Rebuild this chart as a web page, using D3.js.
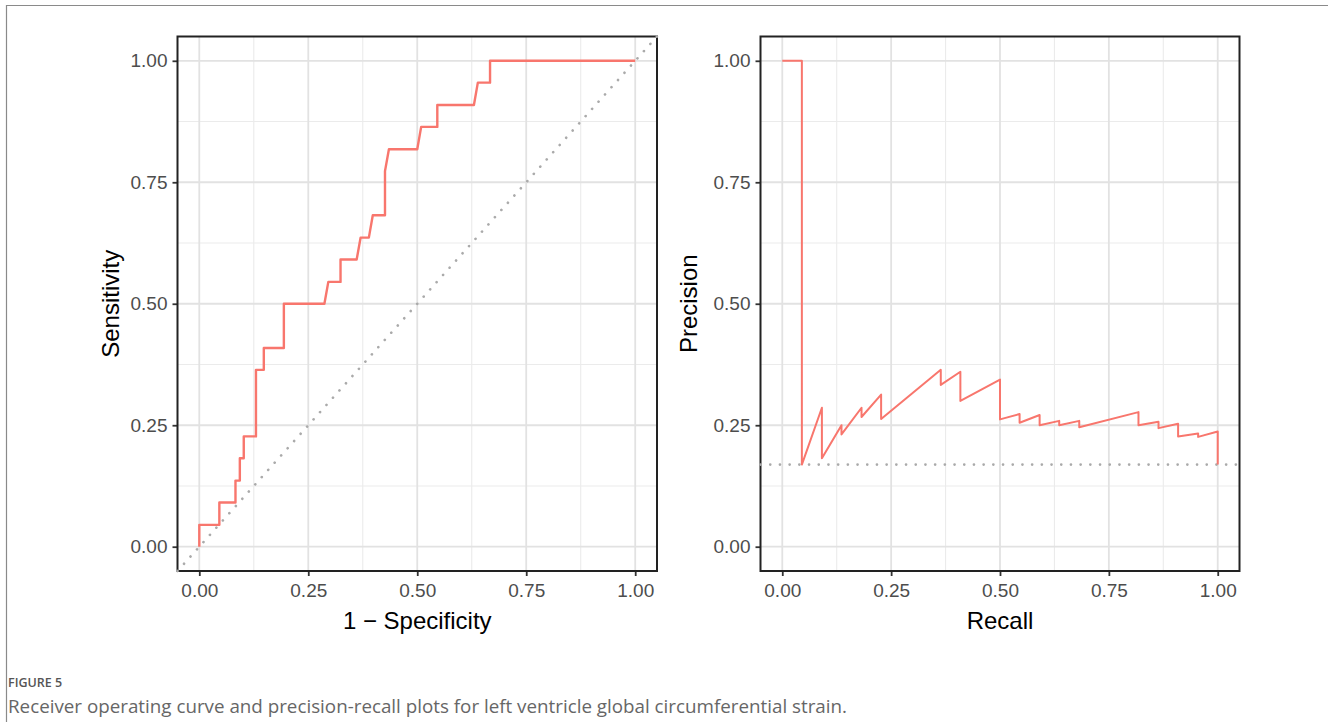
<!DOCTYPE html>
<html>
<head>
<meta charset="utf-8">
<script src="https://cdn.jsdelivr.net/npm/d3@7"></script>
<style>
  body { margin: 0; background: #fff; }
  svg { display: block; }
</style>
</head>
<body>
<div id="chart"></div>
<script>
// ROC curve (1 - specificity, sensitivity)
var rocFpr = [0, 0, 0.046, 0.046, 0.083, 0.083, 0.093, 0.093, 0.102, 0.102, 0.130, 0.130,
  0.148, 0.148, 0.194, 0.194, 0.287, 0.296, 0.324, 0.324, 0.361, 0.370, 0.389, 0.398,
  0.426, 0.426, 0.435, 0.500, 0.509, 0.546, 0.546, 0.630, 0.639, 0.667, 0.667, 1.0];
var rocTpr = [0, 0.045, 0.045, 0.091, 0.091, 0.136, 0.136, 0.182, 0.182, 0.227, 0.227, 0.364,
  0.364, 0.409, 0.409, 0.500, 0.500, 0.545, 0.545, 0.591, 0.591, 0.636, 0.636, 0.682,
  0.682, 0.773, 0.818, 0.818, 0.864, 0.864, 0.909, 0.909, 0.955, 0.955, 1.0, 1.0];

// precision-recall curve
var prRecall = [0, 0.045, 0.045, 0.091, 0.091, 0.136, 0.136, 0.182, 0.182, 0.227, 0.227,
  0.364, 0.364, 0.409, 0.409, 0.500, 0.500, 0.545, 0.545, 0.591, 0.591, 0.636, 0.636,
  0.682, 0.682, 0.818, 0.818, 0.864, 0.864, 0.909, 0.909, 0.955, 0.955, 1.0, 1.0];
var prPrecision = [1.0, 1.0, 0.169, 0.286, 0.182, 0.250, 0.231, 0.286, 0.267, 0.313, 0.263,
  0.364, 0.333, 0.360, 0.300, 0.344, 0.262, 0.273, 0.255, 0.271, 0.250, 0.259, 0.250,
  0.259, 0.246, 0.277, 0.250, 0.257, 0.244, 0.253, 0.227, 0.233, 0.226, 0.237, 0.169];
var prBaseline = 0.169;

var tickValues = [0, 0.25, 0.5, 0.75, 1];
var tickLabels = ['0.00', '0.25', '0.50', '0.75', '1.00'];
var minorValues = [0.125, 0.375, 0.625, 0.875];

var width = 1328,
    height = 722;

var svg = d3.select('#chart').append('svg')
    .attr('width', width)
    .attr('height', height);

// card border
svg.append('path')
    .attr('d', 'M6.5,' + height + 'V5.5H' + width)
    .attr('fill', 'none')
    .attr('stroke', '#8a8a8a')
    .attr('stroke-width', 1.2);

var yScale = d3.scaleLinear()
    .domain([-0.05, 1.05])
    .range([571, 36.5]);

function panel(left, right, xTitle, yTitle, yTitleX) {
  var x = d3.scaleLinear().domain([-0.05, 1.05]).range([left, right]);
  var g = svg.append('g');

  g.selectAll('.minx').data(minorValues).enter().append('line')
      .attr('x1', function(d) { return x(d); }).attr('x2', function(d) { return x(d); })
      .attr('y1', yScale.range()[1]).attr('y2', yScale.range()[0])
      .attr('stroke', '#ebebeb').attr('stroke-width', 1.1);
  g.selectAll('.miny').data(minorValues).enter().append('line')
      .attr('y1', function(d) { return yScale(d); }).attr('y2', function(d) { return yScale(d); })
      .attr('x1', left).attr('x2', right)
      .attr('stroke', '#ebebeb').attr('stroke-width', 1.1);
  g.selectAll('.majx').data(tickValues).enter().append('line')
      .attr('x1', function(d) { return x(d); }).attr('x2', function(d) { return x(d); })
      .attr('y1', yScale.range()[1]).attr('y2', yScale.range()[0])
      .attr('stroke', '#e2e2e2').attr('stroke-width', 1.8);
  g.selectAll('.majy').data(tickValues).enter().append('line')
      .attr('y1', function(d) { return yScale(d); }).attr('y2', function(d) { return yScale(d); })
      .attr('x1', left).attr('x2', right)
      .attr('stroke', '#e2e2e2').attr('stroke-width', 1.8);

  var xAxis = d3.axisBottom(x).tickValues(tickValues).tickSize(5).tickPadding(8)
      .tickFormat(function(d, i) { return tickLabels[i]; });
  var yAxis = d3.axisLeft(yScale).tickValues(tickValues).tickSize(5).tickPadding(5)
      .tickFormat(function(d, i) { return tickLabels[i]; });

  var ax = g.append('g').attr('transform', 'translate(0,' + yScale.range()[0] + ')').call(xAxis);
  var ay = g.append('g').attr('transform', 'translate(' + left + ',0)').call(yAxis);
  [ax, ay].forEach(function(a) {
    a.select('.domain').remove();
    a.selectAll('.tick line').attr('stroke', '#333').attr('stroke-width', 1.8);
    a.selectAll('.tick text')
        .attr('fill', '#4d4d4d')
        .style('font-family', '"Liberation Sans", Arial, sans-serif')
        .style('font-size', '19px');
  });

  g.append('rect')
      .attr('x', left).attr('y', yScale.range()[1])
      .attr('width', right - left).attr('height', yScale.range()[0] - yScale.range()[1])
      .attr('fill', 'none').attr('stroke', '#222').attr('stroke-width', 2);

  g.append('text')
      .attr('x', (left + right) / 2).attr('y', 629)
      .attr('text-anchor', 'middle')
      .style('font-family', '"Liberation Sans", Arial, sans-serif')
      .style('font-size', '24px')
      .text(xTitle);
  g.append('text')
      .attr('transform', 'translate(' + yTitleX + ',' + yScale(0.5) + ') rotate(-90)')
      .attr('text-anchor', 'middle')
      .style('font-family', '"Liberation Sans", Arial, sans-serif')
      .style('font-size', '24px')
      .text(yTitle);

  return { g: g, x: x };
}

// ROC panel
var roc = panel(177.5, 657, '1 \u2212 Specificity', 'Sensitivity', 119);
roc.g.append('line')
    .attr('x1', roc.x(-0.05)).attr('y1', yScale(-0.05))
    .attr('x2', roc.x(1.05)).attr('y2', yScale(1.05))
    .attr('stroke', '#aaaaaa').attr('stroke-width', 2.6)
    .attr('stroke-linecap', 'round')
    .attr('stroke-dasharray', '0.1,9.6');

var rocLine = d3.line()
    .x(function(d) { return roc.x(d[0]); })
    .y(function(d) { return yScale(d[1]); });
roc.g.append('path')
    .datum(d3.zip(rocFpr, rocTpr))
    .attr('d', rocLine)
    .attr('fill', 'none')
    .attr('stroke', '#f8766d')
    .attr('stroke-width', 2.4)
    .attr('stroke-linejoin', 'round');

// precision-recall panel
var pr = panel(760.5, 1239.5, 'Recall', 'Precision', 697);
pr.g.append('line')
    .attr('x1', pr.x(-0.05)).attr('x2', pr.x(1.05))
    .attr('y1', yScale(prBaseline)).attr('y2', yScale(prBaseline))
    .attr('stroke', '#aaaaaa').attr('stroke-width', 2.6)
    .attr('stroke-linecap', 'round')
    .attr('stroke-dasharray', '0.1,9.6');

var prLine = d3.line()
    .x(function(d) { return pr.x(d[0]); })
    .y(function(d) { return yScale(d[1]); });
pr.g.append('path')
    .datum(d3.zip(prRecall, prPrecision))
    .attr('d', prLine)
    .attr('fill', 'none')
    .attr('stroke', '#f8766d')
    .attr('stroke-width', 2)
    .attr('stroke-linejoin', 'round');

// caption
svg.append('text')
    .attr('x', 8).attr('y', 687)
    .attr('fill', '#555')
    .style('font-family', '"Open Sans", sans-serif')
    .style('font-size', '12.5px')
    .style('font-weight', 600)
    .text('FIGURE 5');
svg.append('text')
    .attr('x', 8).attr('y', 713)
    .attr('fill', '#666')
    .style('font-family', '"Open Sans", sans-serif')
    .style('font-size', '18.8px')
    .text('Receiver operating curve and precision-recall plots for left ventricle global circumferential strain.');
</script>
</body>
</html>
